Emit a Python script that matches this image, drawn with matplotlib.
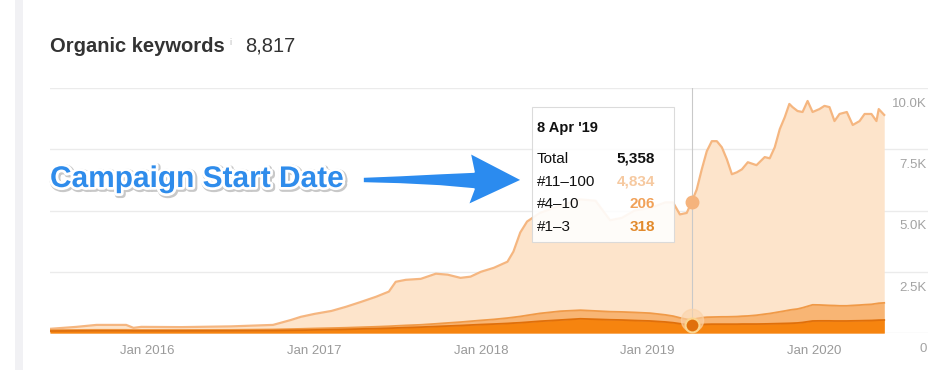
import matplotlib
matplotlib.use('Agg')
import matplotlib.pyplot as plt
import matplotlib.patheffects as pe
from matplotlib.patches import Polygon, Rectangle
import numpy as np
import pandas as pd

plt.rcParams['font.family'] = ['Liberation Sans', 'DejaVu Sans']

# ranking buckets (keyword counts)
dates = [
    '2015-06-01', '2015-07-29', '2015-09-11', '2015-11-15', '2015-12-01', '2015-12-18',
    '2016-03-15', '2016-07-02', '2016-10-02', '2016-11-10', '2016-12-02', '2017-01-01',
    '2017-02-07', '2017-03-11', '2017-04-13', '2017-05-16', '2017-06-13', '2017-06-28',
    '2017-07-20', '2017-08-22', '2017-09-24', '2017-10-20', '2017-11-17', '2017-12-09',
    '2018-01-01', '2018-01-29', '2018-02-28', '2018-03-13', '2018-03-28', '2018-04-12',
    '2018-05-10', '2018-06-24', '2018-08-07', '2018-09-09', '2018-10-11', '2018-11-06',
    '2018-12-04', '2019-01-07', '2019-02-09', '2019-02-26', '2019-03-13', '2019-03-28',
    '2019-04-08', '2019-04-19', '2019-04-30', '2019-05-11', '2019-05-22', '2019-06-02',
    '2019-06-13', '2019-06-24', '2019-07-05', '2019-07-16', '2019-07-27', '2019-08-09',
    '2019-08-28', '2019-09-15', '2019-09-26', '2019-10-07', '2019-10-18', '2019-10-29',
    '2019-11-08', '2019-11-15', '2019-11-26', '2019-12-07', '2019-12-18', '2019-12-29',
    '2020-01-13', '2020-01-24', '2020-02-04', '2020-02-15', '2020-02-26', '2020-03-13',
    '2020-03-26', '2020-04-10', '2020-04-21', '2020-05-06', '2020-05-17', '2020-05-22',
    '2020-06-03',
]
total = [
    170, 250, 330, 330, 210, 250,
    240, 270, 330, 530, 660, 780,
    900, 1070, 1270, 1480, 1690, 2090,
    2170, 2210, 2420, 2380, 2250, 2300,
    2500, 2660, 2910, 3320, 4100, 4550,
    4900, 5200, 5450, 5400, 4600, 4700,
    5000, 5100, 5330, 5330, 4840, 4900,
    5358, 5860, 6680, 7420, 7830, 7830,
    7580, 7090, 6480, 6560, 6680, 6970,
    6850, 7180, 7130, 7580, 8320, 8810,
    9350, 9220, 9060, 9020, 9470, 9020,
    9140, 9270, 9220, 8650, 8940, 9020,
    8490, 8650, 8940, 8940, 8650, 9140,
    8900,
]
pos_1_3 = [
    80, 85, 90, 90, 85, 85,
    85, 90, 100, 110, 115, 125,
    135, 150, 165, 180, 195, 205,
    220, 240, 265, 285, 305, 325,
    345, 365, 390, 405, 420, 440,
    480, 530, 580, 560, 540, 530,
    510, 490, 450, 420, 380, 340,
    318, 330, 345, 355, 360, 360,
    360, 360, 360, 360, 365, 365,
    365, 370, 375, 380, 385, 390,
    395, 400, 410, 430, 460, 490,
    495, 495, 495, 490, 490, 490,
    495, 500, 505, 510, 520, 525,
    530,
]
pos_4_10 = [
    40, 40, 40, 40, 40, 40,
    40, 40, 45, 50, 55, 60,
    65, 65, 70, 75, 80, 85,
    90, 95, 110, 125, 140, 155,
    170, 190, 220, 235, 255, 280,
    320, 360, 350, 340, 330, 330,
    330, 320, 290, 270, 240, 220,
    206, 260, 280, 290, 290, 295,
    300, 300, 305, 310, 320, 330,
    360, 400, 420, 450, 480, 510,
    540, 555, 570, 600, 630, 660,
    650, 640, 630, 630, 620, 620,
    630, 640, 650, 660, 680, 690,
    700,
]

y_ticks = [0, 2500, 5000, 7500, 10000]
y_tick_labels = ['0', '2.5K', '5.0K', '7.5K', '10.0K']
x_ticks = ['2016-01-01', '2017-01-01', '2018-01-01', '2019-01-01', '2020-01-01']
x_tick_labels = ['Jan 2016', 'Jan 2017', 'Jan 2018', 'Jan 2019', 'Jan 2020']

tip_date = '2019-04-08'
tip_label = "8 Apr '19"
tip_total, tip_11_100, tip_4_10, tip_1_3 = 5358, 4834, 206, 318

c_light, c_light_line = '#fde4cb', '#f5b680'
c_mid, c_mid_line = '#f8b574', '#f09a48'
c_dark, c_dark_line = '#f6840f', '#e06f0a'

x = pd.to_datetime(dates)
total = np.array(total)
pos_1_3 = np.array(pos_1_3)
pos_4_10 = np.array(pos_4_10)
pos_11_100 = total - pos_1_3 - pos_4_10
lvl1 = pos_1_3
lvl2 = pos_1_3 + pos_4_10
lvl3 = lvl2 + pos_11_100

W, H = 949, 370


def fx(px):
    return px / W


def fy(py):
    return 1 - py / H


fig = plt.figure(figsize=(W / 100, H / 100), dpi=100)
fig.patches.append(Rectangle((fx(15), 0), fx(8), 1, transform=fig.transFigure,
                             facecolor='#f1f1f4', edgecolor='none'))

ax = fig.add_axes([fx(50), fy(333), fx(928) - fx(50), fy(88) - fy(333)])
ax.set_xlim(pd.Timestamp('2015-06-01'), pd.Timestamp('2020-09-07'))
ax.set_ylim(0, 10000)

for v in y_ticks:
    ax.axhline(v, color='#ebebeb', lw=1, zorder=0)

ax.fill_between(x, 0, lvl3, color=c_light, lw=0, zorder=1)
ax.plot(x, lvl3, color=c_light_line, lw=1.6, zorder=2)
ax.fill_between(x, 0, lvl2, color=c_mid, lw=0, zorder=3)
ax.plot(x, lvl2, color=c_mid_line, lw=1.3, zorder=4)
ax.fill_between(x, 0, lvl1, color=c_dark, lw=0, zorder=5)
ax.plot(x, lvl1, color=c_dark_line, lw=1.3, zorder=6)

td = pd.Timestamp(tip_date)
ax.axvline(td, color='#c9c9c9', lw=0.8, zorder=7)
ax.plot([td], [tip_total], 'o', ms=9, color='#f5b37c', zorder=8)
ax.plot([td], [tip_1_3 + tip_4_10], 'o', ms=16, color='#fbd3a8', alpha=0.6, zorder=8)
ax.plot([td], [tip_1_3], 'o', ms=10, color='#e0700c', mec='#fbd58e', mew=1.5, zorder=9)

ax.set_xticks(pd.to_datetime(x_ticks))
ax.set_xticklabels(x_tick_labels)
ax.tick_params(axis='x', length=0, pad=9, labelsize=9.5, labelcolor='#9a9a9a')
ax.set_yticks([])
for s in ax.spines.values():
    s.set_visible(False)

for v, lab in zip(y_ticks, y_tick_labels):
    ax.annotate(lab, xy=(0.9985, v), xycoords=ax.get_yaxis_transform(),
                xytext=(0, -11.5), textcoords='offset points',
                ha='right', va='center', fontsize=9.5, color='#a3a3a3')

# header
fig.text(fx(50), fy(52), 'Organic keywords', fontsize=14.5, fontweight='bold',
         color='#333333', va='baseline')
fig.text(fx(229), fy(45), 'i', fontsize=6.5, color='#bbbbbb', va='baseline')
fig.text(fx(245), fy(52), '8,817', fontsize=14.5, color='#333333', va='baseline')

# annotation text + arrow
fig.text(fx(50), fy(187), 'Campaign Start Date', fontsize=21.5, fontweight='bold',
         color='#2f8ceb', va='baseline',
         path_effects=[pe.Stroke(linewidth=5, foreground='#c8c8c8', offset=(1, -1)),
                       pe.Stroke(linewidth=4, foreground='white'), pe.Normal()])
arrow_px = [(363, 177), (400, 175.5), (440, 173.5), (474, 172), (470, 153), (522, 180),
            (468, 205), (474, 189), (440, 186), (400, 184), (363, 183)]
fig.add_artist(Polygon([(fx(a), fy(b)) for a, b in arrow_px], closed=True,
                       transform=fig.transFigure, facecolor='#2b8bef',
                       edgecolor='white', lw=1.2, joinstyle='round'))

# tooltip
fig.add_artist(Rectangle((fx(532), fy(242)), fx(674) - fx(532), fy(107) - fy(242),
                         transform=fig.transFigure, facecolor='white', alpha=0.9,
                         edgecolor='#d8d8d8', lw=0.8))
fig.text(fx(537), fy(132), tip_label, fontsize=10.5, fontweight='bold',
         color='#111111', va='baseline')
rows = [('Total', tip_total, '#111111', 163),
        ('#11–100', tip_11_100, '#f6c9a0', 186),
        ('#4–10', tip_4_10, '#f1a158', 208),
        ('#1–3', tip_1_3, '#e28a2c', 231)]
for name, val, col, base in rows:
    fig.text(fx(537), fy(base), name, fontsize=11, color='#111111', va='baseline')
    fig.text(fx(655), fy(base), f'{val:,}', fontsize=11, fontweight='bold',
             color=col, va='baseline', ha='right')

fig.savefig('out.png', dpi=100)
